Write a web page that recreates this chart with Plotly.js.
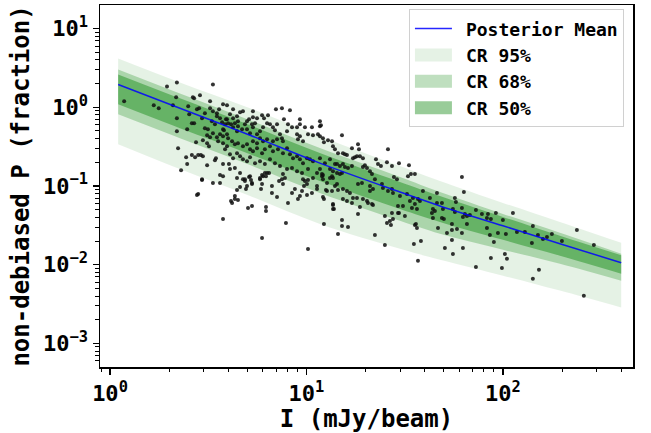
<!DOCTYPE html>
<html><head><meta charset="utf-8">
<script src="https://cdn.plot.ly/plotly-3.0.1.min.js"></script>
<style>html,body{margin:0;padding:0;background:#fff}</style>
</head><body>
<div id="chart" style="width:651px;height:433px"></div>
<script>
// Observed sources: total intensity I (mJy/beam) and non-debiased P (fraction)
const sourceI = [
1.18,1.67,1.77,1.95,2.19,2.09,2.19,2.19,2.22,2.30,2.17,
2.53,2.47,2.61,2.68,2.64,2.68,2.87,2.77,2.84,2.44,2.47,2.61,2.71,2.81,2.90,2.94,3.12,2.81,3.34,3.23,3.34,3.50,3.59,3.76,3.94,3.34,3.63,3.76,4.03,3.76,4.13,4.32,4.48,2.50,3.23,3.50,3.63,3.30,3.04,3.15,3.34,3.23,3.50,3.63,3.76,3.85,3.94,3.72,3.42,3.12,2.97,3.12,3.19,3.55,3.76,3.99,3.85,3.46,3.42,2.97,2.74,3.04,2.94,
4.59,4.75,4.08,4.23,4.43,7.50,8.24,5.94,6.37,5.34,5.60,5.10,4.86,4.98,5.28,5.47,3.89,3.99,4.13,4.32,4.48,3.80,3.94,3.76,4.23,4.43,4.48,4.70,4.98,5.16,5.34,5.60,5.80,6.01,6.30,6.52,6.75,7.08,6.91,8.05,8.44,7.96,8.95,9.26,9.05,9.60,10.18,10.79,11.44,11.71,12.13,12.87,13.49,7.33,7.50,7.59,7.08,6.75,5.80,6.01,6.30,5.60,5.34,4.18,4.32,4.48,3.94,4.75,4.98,5.16,5.34,5.60,5.94,6.14,6.52,6.75,7.16,7.59,7.96,8.24,8.54,8.95,9.26,9.60,10.06,10.41,10.79,11.71,12.41,13.17,13.96,4.08,4.23,4.43,4.59,4.75,4.98,5.16,5.47,5.80,6.14,6.52,6.91,7.33,7.96,8.44,8.95,9.49,10.18,11.31,12.0,4.08,4.32,4.59,4.86,5.16,4.98,5.28,5.80,5.94,6.30,6.67,6.01,7.50,7.59,8.73,9.60,10.06,11.31,12.72,13.96,13.64,14.80,
4.23,5.34,6.99,6.08,7.68,9.26,8.95,9.26,9.82,10.66,11.85,
11.71,12.27,11.71,15.16,13.64,13.96,14.47,15.33,15.69,16.07,17.04,17.24,17.64,18.07,18.29,18.50,18.71,19.38,19.38,23.12,23.93,25.99,27.23,29.57,33.25,32.86,34.01,35.63,22.58,25.68,27.87,28.88,14.30,14.80,15.33,15.69,16.27,17.04,13.17,13.64,14.30,13.49,19.83,20.32,21.04,21.54,19.16,18.29,14.30,15.33,16.07,14.47,13.49,24.22,25.99,27.23,27.55,21.80,21.04,29.90,32.47,34.82,39.15,42.49,46.14,46.14,48.92,49.49,44.02,43.51,44.02,37.79,35.63,36.50,33.61,30.98,17.24,16.07,15.33,17.04,19.38,20.56,21.54,13.64,13.64,29.22,29.22,27.23,27.55,26.59,25.68,25.07,15.16,15.16,16.27,35.63,36.50,46.70,31.69,21.04,22.30,20.32,21.80,34.42,36.94,11.71,11.99,12.13,12.72,13.17,15.16,16.64,18.07,18.71,18.29,24.50,
61.83,63.28,56.93,57.63,55.64,56.93,61.83,64.00,62.55,65.57,67.89,65.57,72.85,78.16,82.89,83.89,86.84,92.07,99.95,112.4,48.92,50.06,55.00,51.88,55.00,58.33,61.83,82.89,85.81,89.93,94.30,103.5,117.8,129.3,142.0,140.4,150.7,159.8,167.5,177.5,199.6,237.9,290.3,55.00,50.64,55.64,62.55,86.84,102.3,104.8,72.85,98.80,152.5,142.0,258.1,25.07,22.30,14.47,12.27,26.91,29.57,35.22,38.24,36.94,45.04,36.06,
2.77,2.94,3.63,3.76,4.18,4.59,4.43,4.43,4.75,4.86,5.10,5.22,5.28,4.92,5.04,5.28,5.80,5.94,6.14,5.87,6.22,6.45,6.22,6.22,5.94,6.67,7.08,7.25,7.77,7.59,8.05,7.86,8.44,9.05,9.26,9.49,10.06,10.66,9.71,9.82,10.18,10.79,11.31,12.13,12.13,12.27,12.56,13.64,13.80,10.18,4.32
];
const sourceP = [
1.19,1.06,0.97,1.84,2.07,1.06,0.725,0.497,0.302,0.159,1.34,
0.815,0.526,0.627,0.627,1.34,1.30,1.42,0.944,0.971,0.232,0.190,0.247,0.232,0.247,0.247,0.122,0.184,0.079,1.95,0.971,0.890,0.839,0.944,1.09,1.06,0.109,0.109,0.190,0.190,0.0381,0.0644,0.0683,0.0663,1.03,1.19,0.769,0.725,0.665,0.542,0.526,0.468,0.417,0.417,0.455,0.526,0.609,0.705,0.645,0.609,0.442,0.382,0.350,0.320,0.371,0.350,0.405,0.294,0.226,0.213,0.239,0.360,0.839,0.725,
0.864,0.890,0.815,0.725,0.769,0.971,0.916,0.792,0.792,0.747,0.725,0.705,0.609,0.665,0.609,0.627,0.705,0.627,0.609,0.627,0.665,0.511,0.455,0.429,0.558,0.497,0.574,0.526,0.526,0.468,0.558,0.455,0.497,0.558,0.627,0.609,0.558,0.609,0.511,0.609,0.558,0.497,0.455,0.429,0.393,0.371,0.455,0.442,0.455,0.574,0.405,0.382,0.371,0.455,0.405,0.371,0.393,0.371,0.405,0.371,0.393,0.350,0.371,0.371,0.340,0.350,0.320,0.320,0.340,0.294,0.277,0.302,0.261,0.294,0.320,0.277,0.294,0.261,0.302,0.254,0.226,0.239,0.219,0.195,0.226,0.219,0.207,0.226,0.195,0.219,0.190,0.254,0.226,0.261,0.239,0.219,0.207,0.232,0.195,0.207,0.190,0.219,0.195,0.179,0.164,0.169,0.1545,0.146,0.164,0.146,0.133,0.164,0.169,0.146,0.122,0.133,0.0997,0.109,0.122,0.106,0.146,0.0997,0.133,0.122,0.106,0.0914,0.122,0.106,0.0914,0.0862,0.0997,0.126,0.142,
0.944,0.890,0.944,0.725,0.705,0.705,0.558,0.609,0.558,0.558,0.592,
0.665,0.360,0.429,0.442,0.320,0.294,0.261,0.261,0.254,0.247,0.302,0.226,0.232,0.239,0.340,0.294,0.239,0.226,0.174,0.190,0.179,0.294,0.179,0.195,0.184,0.133,0.142,0.142,0.219,0.201,0.130,0.122,0.190,0.179,0.190,0.174,0.169,0.179,0.164,0.1545,0.146,0.133,0.184,0.169,0.1545,0.142,0.109,0.106,0.106,0.0914,0.0862,0.0887,0.0862,0.106,0.0862,0.0914,0.0813,0.0914,0.0862,0.0745,0.0790,0.0703,0.0862,0.0703,0.0813,0.0607,0.0607,0.0510,0.0510,0.0454,0.0392,0.0644,0.0590,0.0510,0.0644,0.0556,0.0703,0.0644,0.0683,0.0607,0.0683,0.0607,0.0590,0.0590,0.0510,0.0556,0.0454,0.0454,0.0381,0.0359,0.0339,0.0416,0.0370,0.0310,0.0301,0.0320,0.0293,0.0293,0.0416,0.0997,0.122,0.0644,0.0573,0.0525,0.0683,0.164,0.142,0.122,0.109,0.126,0.146,0.0813,0.0703,0.0540,0.0441,0.0940,
0.130,0.0837,0.0703,0.0625,0.0510,0.0467,0.0525,0.0441,0.0404,0.0416,0.0428,0.0329,0.0495,0.0441,0.0392,0.0441,0.0381,0.0454,0.0370,0.0454,0.0392,0.0381,0.0329,0.0253,0.0276,0.0284,0.0253,0.0293,0.0239,0.0194,0.0253,0.0245,0.0260,0.0260,0.0310,0.0189,0.0239,0.0212,0.0225,0.0245,0.0200,0.0276,0.0178,0.0206,0.0163,0.0137,0.0163,0.0122,0.0137,0.0119,0.00938,0.00911,0.00860,0.00661,0.00403,0.0178,0.0239,0.0245,0.0329,0.0320,0.0454,0.0183,0.0200,0.0112,0.0481,0.0329,
0.0767,0.119,0.138,0.133,0.0607,0.0968,0.0888,0.126,0.122,0.1154,0.130,0.119,0.106,0.0914,0.0525,0.0556,0.126,0.138,0.146,0.0914,0.133,0.146,0.0540,0.0481,0.0218,0.0813,0.0723,0.1154,0.126,0.142,0.0607,0.0339,0.0813,0.0683,0.0745,0.0862,0.0767,0.0813,0.0997,0.1154,0.119,0.126,0.0997,0.138,0.0723,0.0683,0.0888,0.0573,0.0510,0.0158,0.0745
];

// Model curve read at a few intensities
const curveI   = [1.1, 2.27, 5.16, 11.7, 29.9, 47.8, 100, 195, 400];
const meanP    = [1.95, 0.971, 0.442, 0.1955, 0.0839, 0.0558, 0.0312, 0.01845, 0.0106];
const cr95Low  = [0.340, 0.164, 0.0747, 0.0330, 0.01595, 0.01156, 0.00726, 0.00469, 0.00286];
const cr95High = [4.17, 2.07, 0.971, 0.429, 0.179, 0.1157, 0.0610, 0.0350, 0.0190];
const cr68Low  = [0.815, 0.405, 0.1845, 0.0815, 0.0361, 0.0247, 0.01549, 0.01030, 0.00627];
const cr68High = [3.03, 1.50, 0.684, 0.303, 0.130, 0.0839, 0.0442, 0.0254, 0.01377];
const cr50Low  = [1.09, 0.542, 0.254, 0.1157, 0.0512, 0.0350, 0.0207, 0.0130, 0.00769];
const cr50High = [2.62, 1.30, 0.592, 0.262, 0.1124, 0.0747, 0.0405, 0.0233, 0.01318];

const xTickVals = [1, 10, 100];
const xTickText = ['10<sup>0</sup>', '10<sup>1</sup>', '10<sup>2</sup>'];
const yTickVals = [0.001, 0.01, 0.1, 1, 10];
const yTickText = ['10<sup>\u22123</sup>', '10<sup>\u22122</sup>', '10<sup>\u22121</sup>', '10<sup>0</sup>', '10<sup>1</sup>'];

function minorTicks(k0, k1) {
  const out = [];
  for (let k = k0; k <= k1; k++) for (let m = 2; m <= 9; m++) out.push(m * Math.pow(10, k));
  return out;
}

const FONT = 'DejaVu Sans Mono, monospace';

function band(low, high, name, color, rank) {
  return [
    {x: curveI, y: low, mode: 'lines', line: {width: 0, shape: 'spline'}, showlegend: false,
     legendgroup: name, legendrank: rank, hoverinfo: 'skip'},
    {x: curveI, y: high, mode: 'lines', line: {width: 0, shape: 'spline'}, fill: 'tonexty',
     fillcolor: color, name: name, legendgroup: name, legendrank: rank, hoverinfo: 'skip'}
  ];
}

const traces = [].concat(
  band(cr95Low, cr95High, 'CR 95%', 'rgba(0,128,0,0.10)', 2),
  band(cr68Low, cr68High, 'CR 68%', 'rgba(0,128,0,0.25)', 3),
  band(cr50Low, cr50High, 'CR 50%', 'rgba(0,128,0,0.40)', 4),
  [{x: sourceI, y: sourceP, mode: 'markers', showlegend: false,
    marker: {size: 4, color: 'rgba(15,15,15,0.85)', line: {width: 0}}},
   {x: curveI, y: meanP, mode: 'lines', name: 'Posterior Mean', legendgroup: 'mean', legendrank: 1,
    line: {color: 'rgba(0,0,255,0.85)', width: 1.5, shape: 'spline'}}]
);

const axisCommon = {
  type: 'log', tickmode: 'array', ticks: 'outside', ticklen: 6, tickwidth: 1.2, tickcolor: '#000',
  showline: true, linecolor: '#000', linewidth: 1.5, mirror: true, showgrid: false, zeroline: false,
  automargin: true,
  tickfont: {family: FONT, size: 22, weight: 'bold', color: '#000'}
};

const layout = {
  width: 651, height: 433,
  margin: {l: 100, r: 18, t: 3, b: 66},
  paper_bgcolor: '#fff', plot_bgcolor: '#fff',
  showlegend: true,
  legend: {x: 0.983, xanchor: 'right', y: 0.988, yanchor: 'top',
           bgcolor: 'rgba(255,255,255,0.8)', bordercolor: '#d0d0d0', borderwidth: 1,
           font: {family: FONT, size: 18, weight: 'bold', color: '#000'},
           itemwidth: 46, tracegroupgap: 0, traceorder: 'grouped'},
  xaxis: Object.assign({}, axisCommon, {
    range: [-0.051, 2.662], tickvals: xTickVals, ticktext: xTickText,
    minor: {tickmode: 'array', tickvals: minorTicks(-1, 2), ticks: 'outside', ticklen: 3.5, tickwidth: 1, tickcolor: '#000', showgrid: false},
    title: {text: 'I (mJy/beam)', standoff: 3, font: {family: FONT, size: 24, weight: 'bold', color: '#000'}}
  }),
  yaxis: Object.assign({}, axisCommon, {
    range: [-3.30, 1.30], tickvals: yTickVals, ticktext: yTickText,
    minor: {tickmode: 'array', tickvals: minorTicks(-4, 1), ticks: 'outside', ticklen: 3.5, tickwidth: 1, tickcolor: '#000', showgrid: false},
    title: {text: 'non-debiased P (fraction)', standoff: 6, font: {family: FONT, size: 24, weight: 'bold', color: '#000'}}
  })
};

Plotly.newPlot('chart', traces, layout, {staticPlot: true, displayModeBar: false}).then(function (gd) {
  // widen legend swatches to resemble matplotlib patches
  gd.querySelectorAll('.legend g.legendfill path').forEach(function (p) {
    p.setAttribute('d', 'M5,-6.5h37v13h-37z');
  });
  gd.querySelectorAll('.legend g.legendlines path').forEach(function (p) {
    p.setAttribute('d', 'M5,0h37');
  });
});
</script>
</body></html>
